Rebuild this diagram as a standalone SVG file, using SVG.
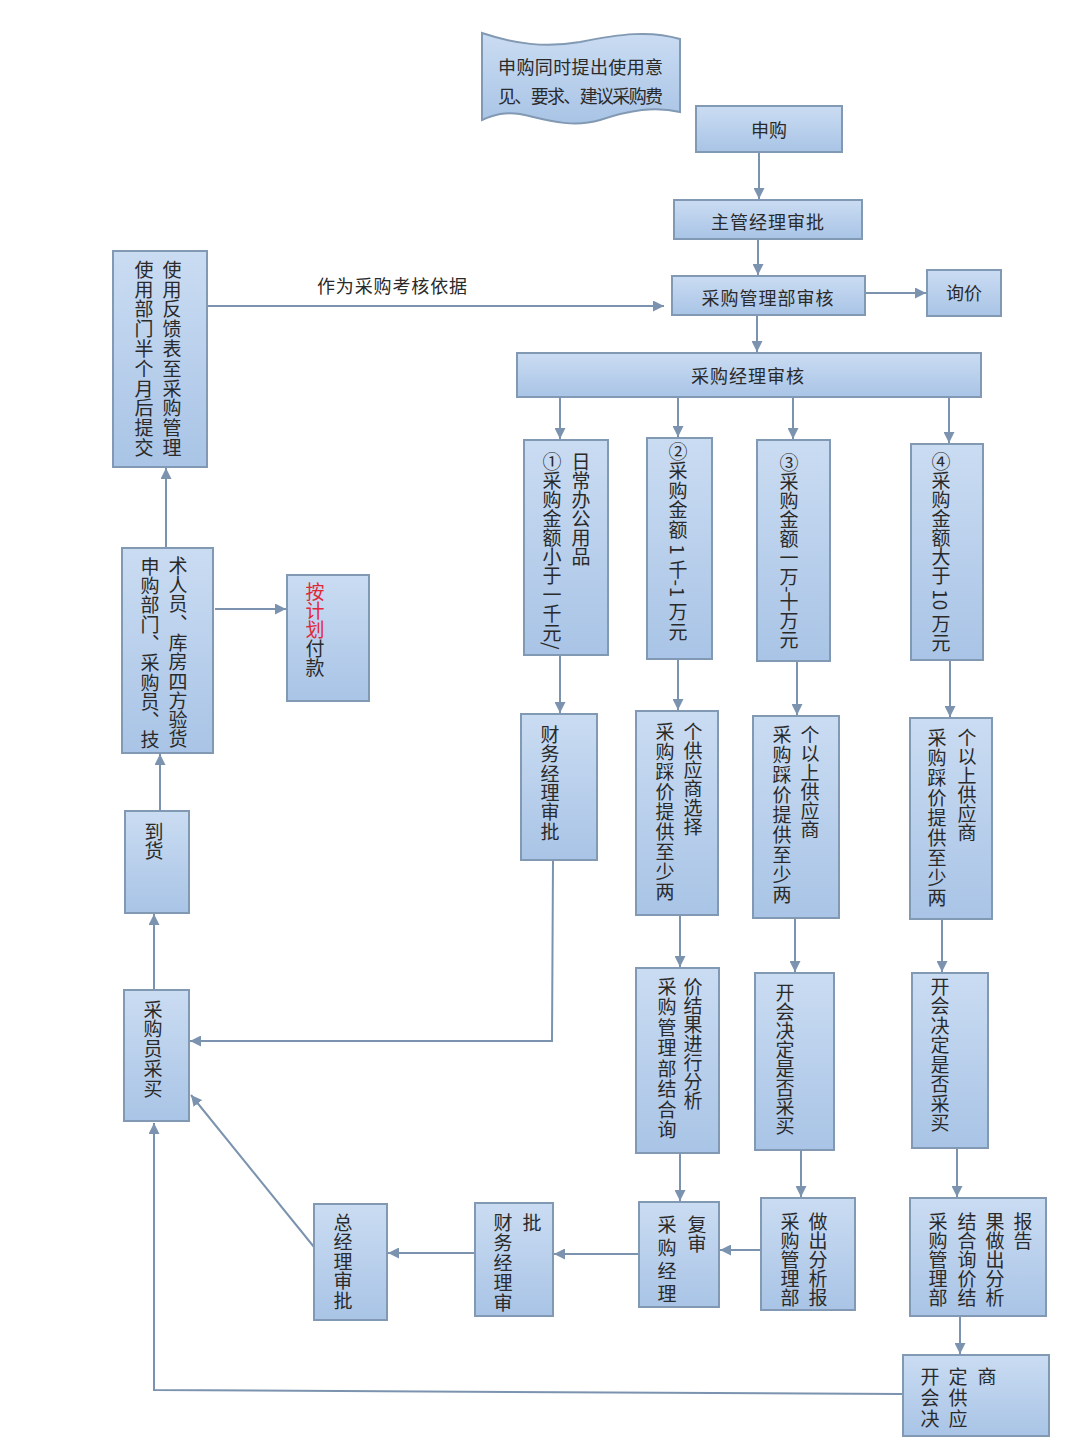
<svg xmlns="http://www.w3.org/2000/svg" width="1080" height="1448" viewBox="0 0 1080 1448">
<defs>
<linearGradient id="g" x1="0" y1="0" x2="0" y2="1">
<stop offset="0" stop-color="#cadcf2"/>
<stop offset="1" stop-color="#a9c4e6"/>
</linearGradient>
<marker id="ah" markerWidth="11" markerHeight="11" refX="11" refY="5.5" orient="auto" markerUnits="userSpaceOnUse">
<path d="M0,0 L11,5.5 L0,11 z" fill="#7b93ae"/>
</marker>
<style>
.box{fill:url(#g);stroke:#8299b3;stroke-width:2}
.t{font-family:"Noto Sans CJK SC","Noto Sans",sans-serif;fill:#2a2a2a;font-size:18px}
.h{text-anchor:middle;dominant-baseline:central}
.v{writing-mode:vertical-rl;font-size:19px}
.c{fill:none;stroke:#7b93ae;stroke-width:2;marker-end:url(#ah)}
.red{fill:#e0283a}
</style>
</defs>
<rect width="1080" height="1448" fill="#ffffff"/>

<g id="connectors">
<path class="c" d="M759,152 V199"/>
<path class="c" d="M758,239 V275"/>
<path class="c" d="M865,293 H926"/>
<path class="c" d="M757,315 V352"/>
<path class="c" d="M560,397 V439"/>
<path class="c" d="M678,397 V437"/>
<path class="c" d="M793,397 V439"/>
<path class="c" d="M949,397 V443"/>
<path class="c" d="M560,655 V713"/>
<path class="c" d="M678,659 V710"/>
<path class="c" d="M797,661 V715"/>
<path class="c" d="M950,660 V717"/>
<path class="c" d="M680,915 V967"/>
<path class="c" d="M795,918 V972"/>
<path class="c" d="M942,919 V972"/>
<path class="c" d="M680,1153 V1201"/>
<path class="c" d="M801,1150 V1197"/>
<path class="c" d="M957,1148 V1197"/>
<path class="c" d="M960,1316 V1354"/>
<path class="c" d="M760,1250 H720"/>
<path class="c" d="M639,1254 H554"/>
<path class="c" d="M475,1253 H388"/>
<path class="c" d="M314,1247 L191,1095"/>
<path class="c" d="M902,1394 L154,1390 L154,1123"/>
<path class="c" d="M553,860 L552,1041 H190"/>
<path class="c" d="M154,990 V914"/>
<path class="c" d="M160,811 V754"/>
<path class="c" d="M215,609 H286"/>
<path class="c" d="M166,548 V468"/>
<path class="c" d="M207,306 H664"/>
<text class="t" x="317" y="293" textLength="150" lengthAdjust="spacing">作为采购考核依据</text>
</g>

<g id="note">
<path class="box" d="M482,33 C515,44 545,48 580,42 C620,34 650,30 680,39 L680,112 C655,106 630,110 600,120 C570,129 540,118 520,114 C505,112 495,114 482,120 Z"/>
<text class="t" x="498" y="74" font-size="15" textLength="165" lengthAdjust="spacing">申购同时提出使用意</text>
<text class="t" x="498" y="103" font-size="15" textLength="165" lengthAdjust="spacing">见、要求、建议采购费</text>
</g>

<g id="n-shengou">
<rect class="box" x="696" y="106" width="146" height="46"/>
<text class="t h" x="769" y="129">申购</text>
</g>
<g id="n-zhuguan">
<rect class="box" x="674" y="200" width="188" height="39"/>
<text class="t h" x="768" y="221" letter-spacing="1">主管经理审批</text>
</g>
<g id="n-guanlibu">
<rect class="box" x="672" y="276" width="193" height="39"/>
<text class="t h" x="768" y="297" letter-spacing="1">采购管理部审核</text>
</g>
<g id="n-xunjia">
<rect class="box" x="927" y="270" width="74" height="46"/>
<text class="t h" x="964" y="292">询价</text>
</g>
<g id="n-jingli">
<rect class="box" x="517" y="353" width="464" height="44"/>
<text class="t h" x="748" y="375" letter-spacing="1">采购经理审核</text>
</g>

<g id="n-b1">
<rect class="box" x="524" y="440" width="84" height="215"/>
<text class="t v" x="552" y="452" font-size="18">①采购金额小于一千元/</text>
<text class="t v" x="581" y="452" font-size="18">日常办公用品</text>
</g>
<g id="n-b2">
<rect class="box" x="647" y="438" width="65" height="221"/>
<text class="t v" x="678" y="442" letter-spacing="0.5">②采购金额 1 千-1 万元</text>
</g>
<g id="n-b3">
<rect class="box" x="757" y="440" width="73" height="221"/>
<text class="t v" x="789" y="453" font-size="17.5">③采购金额一万-十万元</text>
</g>
<g id="n-b4">
<rect class="box" x="911" y="444" width="72" height="216"/>
<text class="t v" x="941" y="452" font-size="18.5">④采购金额大于 10 万元</text>
</g>

<g id="n-caiwu1">
<rect class="box" x="521" y="714" width="76" height="146"/>
<text class="t v" x="550" y="725" font-size="18" letter-spacing="0.4">财务经理审批</text>
</g>
<g id="n-b2b">
<rect class="box" x="636" y="711" width="82" height="204"/>
<text class="t v" x="665" y="722" letter-spacing="1">采购踩价提供至少两</text>
<text class="t v" x="693" y="722">个供应商选择</text>
</g>
<g id="n-b3b">
<rect class="box" x="753" y="716" width="86" height="202"/>
<text class="t v" x="782" y="725" letter-spacing="1">采购踩价提供至少两</text>
<text class="t v" x="810" y="725">个以上供应商</text>
</g>
<g id="n-b4b">
<rect class="box" x="910" y="718" width="82" height="201"/>
<text class="t v" x="937" y="728" letter-spacing="1">采购踩价提供至少两</text>
<text class="t v" x="967" y="728">个以上供应商</text>
</g>

<g id="n-b2c">
<rect class="box" x="636" y="968" width="83" height="185"/>
<text class="t v" x="667" y="977" letter-spacing="1.5">采购管理部结合询</text>
<text class="t v" x="693" y="977">价结果进行分析</text>
</g>
<g id="n-b3c">
<rect class="box" x="755" y="973" width="79" height="177"/>
<text class="t v" x="785" y="983">开会决定是否采买</text>
</g>
<g id="n-b4c">
<rect class="box" x="912" y="973" width="76" height="175"/>
<text class="t v" x="940" y="977" letter-spacing="0.5">开会决定是否采买</text>
</g>

<g id="n-fushen">
<rect class="box" x="639" y="1202" width="80" height="105"/>
<text class="t v" x="667" y="1215" font-size="18" letter-spacing="4">采购经理</text>
<text class="t v" x="697" y="1215" font-size="17">复审</text>
</g>
<g id="n-b3d">
<rect class="box" x="761" y="1198" width="94" height="112"/>
<text class="t v" x="790" y="1212" font-size="18">采购管理部</text>
<text class="t v" x="818" y="1212" font-size="18">做出分析报</text>
</g>
<g id="n-b4d">
<rect class="box" x="910" y="1198" width="136" height="118"/>
<text class="t v" x="938" y="1212">采购管理部</text>
<text class="t v" x="967" y="1212">结合询价结</text>
<text class="t v" x="995" y="1212">果做出分析</text>
<text class="t v" x="1023" y="1212" font-size="17">报告</text>
</g>
<g id="n-kaihui">
<rect class="box" x="903" y="1355" width="146" height="81"/>
<text class="t v" x="930" y="1367" font-size="18" letter-spacing="2">开会决</text>
<text class="t v" x="958" y="1367" font-size="18" letter-spacing="2">定供应</text>
<text class="t v" x="987" y="1367" font-size="18">商</text>
</g>
<g id="n-caiwu2">
<rect class="box" x="475" y="1203" width="78" height="113"/>
<text class="t v" x="503" y="1213" font-size="18" letter-spacing="1">财务经理审</text>
<text class="t v" x="532" y="1213" font-size="18">批</text>
</g>
<g id="n-zongjingli">
<rect class="box" x="314" y="1204" width="73" height="116"/>
<text class="t v" x="343" y="1213" font-size="18" letter-spacing="0.5">总经理审批</text>
</g>

<g id="n-caimai">
<rect class="box" x="124" y="990" width="65" height="131"/>
<text class="t v" x="153" y="1000" font-size="18" letter-spacing="0.7">采购员采买</text>
</g>
<g id="n-daohuo">
<rect class="box" x="125" y="811" width="64" height="102"/>
<text class="t v" x="154" y="822" font-size="17">到货</text>
</g>
<g id="n-yanhuo">
<rect class="box" x="122" y="548" width="91" height="205"/>
<text class="t v" x="150" y="557" font-size="18" letter-spacing="0.3">申购部门、采购员、技</text>
<text class="t v" x="178" y="556" font-size="18" letter-spacing="0.3">术人员、库房四方验货</text>
</g>
<g id="n-fukuan">
<rect class="box" x="287" y="575" width="82" height="126"/>
<text class="t v" x="315" y="582"><tspan class="red">按计划</tspan>付款</text>
</g>
<g id="n-fankui">
<rect class="box" x="113" y="251" width="94" height="216"/>
<text class="t v" x="144" y="260" letter-spacing="0.8">使用部门半个月后提交</text>
<text class="t v" x="172" y="260" letter-spacing="0.8">使用反馈表至采购管理</text>
</g>
</svg>
